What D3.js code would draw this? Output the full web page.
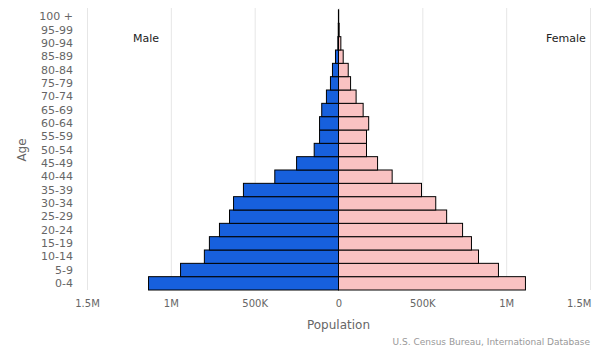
<!DOCTYPE html>
<html>
<head>
<meta charset="utf-8">
<script src="https://cdn.jsdelivr.net/npm/d3@7"></script>
<style>
  body { margin: 0; background: #fff; }
  text { font-family: "DejaVu Sans", sans-serif; }
</style>
</head>
<body>
<div id="chart-area"></div>
<script>
var ages = ["0-4", "5-9", "10-14", "15-19", "20-24", "25-29", "30-34", "35-39", "40-44", "45-49",
    "50-54", "55-59", "60-64", "65-69", "70-74", "75-79", "80-84", "85-89", "90-94", "95-99", "100 +"];
var male = [1133000, 942000, 800000, 770000, 710000, 650000, 626000, 567000, 380000, 250000,
    145000, 113000, 113000, 100000, 72000, 48000, 36000, 18000, 4000, 1500, 500];
var female = [1115000, 954000, 835000, 793000, 740000, 645000, 580000, 495000, 320000, 233000,
    167000, 167000, 180000, 147000, 105000, 72000, 58000, 28000, 14000, 4000, 1000];
var xTicks = [-1500000, -1000000, -500000, 0, 500000, 1000000, 1500000];

var width = 600, height = 350;
var svg = d3.select("#chart-area").append("svg")
    .attr("width", width)
    .attr("height", height);

var x = d3.scaleLinear()
    .domain([-1500000, 1500000])
    .range([87, 590]);

var y = d3.scaleBand()
    .domain(ages.slice().reverse())
    .range([10, 290])
    .padding(0);

function fmt(v) {
    var a = Math.abs(v);
    if (a === 0) return "0";
    if (a >= 1000000) return (a / 1000000) + "M";
    return (a / 1000) + "K";
}

// grid lines
svg.append("g").selectAll("line")
    .data(xTicks)
    .enter().append("line")
        .attr("x1", (d) => x(d) + 0.5)
        .attr("x2", (d) => x(d) + 0.5)
        .attr("y1", 8)
        .attr("y2", 290)
        .attr("stroke", "#e6e6e6")
        .attr("stroke-width", 1);

// x axis
var xAxis = svg.append("g")
    .attr("transform", "translate(0, 290)")
    .call(d3.axisBottom(x).tickValues(xTicks).tickFormat(fmt).tickSize(0).tickPadding(10));
xAxis.select(".domain").remove();
xAxis.selectAll("text")
    .attr("fill", "#666")
    .style("font-size", "10px");
// last label kept inside the chart, like the original
xAxis.selectAll(".tick")
    .filter((d) => d === xTicks[xTicks.length - 1])
    .select("text")
        .attr("text-anchor", "end")
        .attr("dx", "1px");

// y axis
var yAxis = svg.append("g")
    .attr("transform", "translate(75, 0)")
    .call(d3.axisLeft(y).tickSize(0).tickPadding(2));
yAxis.select(".domain").remove();
yAxis.selectAll("text")
    .attr("fill", "#666")
    .style("font-size", "11px");

// bars
var rows = ages.map((a, i) => ({ age: a, m: male[i], f: female[i] }));

svg.append("g").selectAll("rect")
    .data(rows)
    .enter().append("rect")
        .attr("x", (d) => x(-d.m))
        .attr("y", (d) => y(d.age))
        .attr("width", (d) => x(0) - x(-d.m))
        .attr("height", y.bandwidth())
        .attr("fill", "#1760dd")
        .attr("stroke", "#000")
        .attr("stroke-width", 1);

svg.append("g").selectAll("rect")
    .data(rows)
    .enter().append("rect")
        .attr("x", x(0))
        .attr("y", (d) => y(d.age))
        .attr("width", (d) => x(d.f) - x(0))
        .attr("height", y.bandwidth())
        .attr("fill", "#fac2c2")
        .attr("stroke", "#000")
        .attr("stroke-width", 1);

// labels
svg.append("text")
    .attr("x", 146)
    .attr("y", 42)
    .attr("text-anchor", "middle")
    .style("font-size", "11px")
    .attr("fill", "#222")
    .text("Male");

svg.append("text")
    .attr("x", 566)
    .attr("y", 42)
    .attr("text-anchor", "middle")
    .style("font-size", "11px")
    .attr("fill", "#222")
    .text("Female");

svg.append("text")
    .attr("x", x(0))
    .attr("y", 329)
    .attr("text-anchor", "middle")
    .style("font-size", "12px")
    .attr("fill", "#666")
    .text("Population");

svg.append("text")
    .attr("transform", "translate(26, 150) rotate(-90)")
    .attr("text-anchor", "middle")
    .style("font-size", "12px")
    .attr("fill", "#666")
    .text("Age");

svg.append("text")
    .attr("x", 590)
    .attr("y", 345)
    .attr("text-anchor", "end")
    .style("font-size", "9px")
    .attr("fill", "#999")
    .text("U.S. Census Bureau, International Database");
</script>
</body>
</html>
